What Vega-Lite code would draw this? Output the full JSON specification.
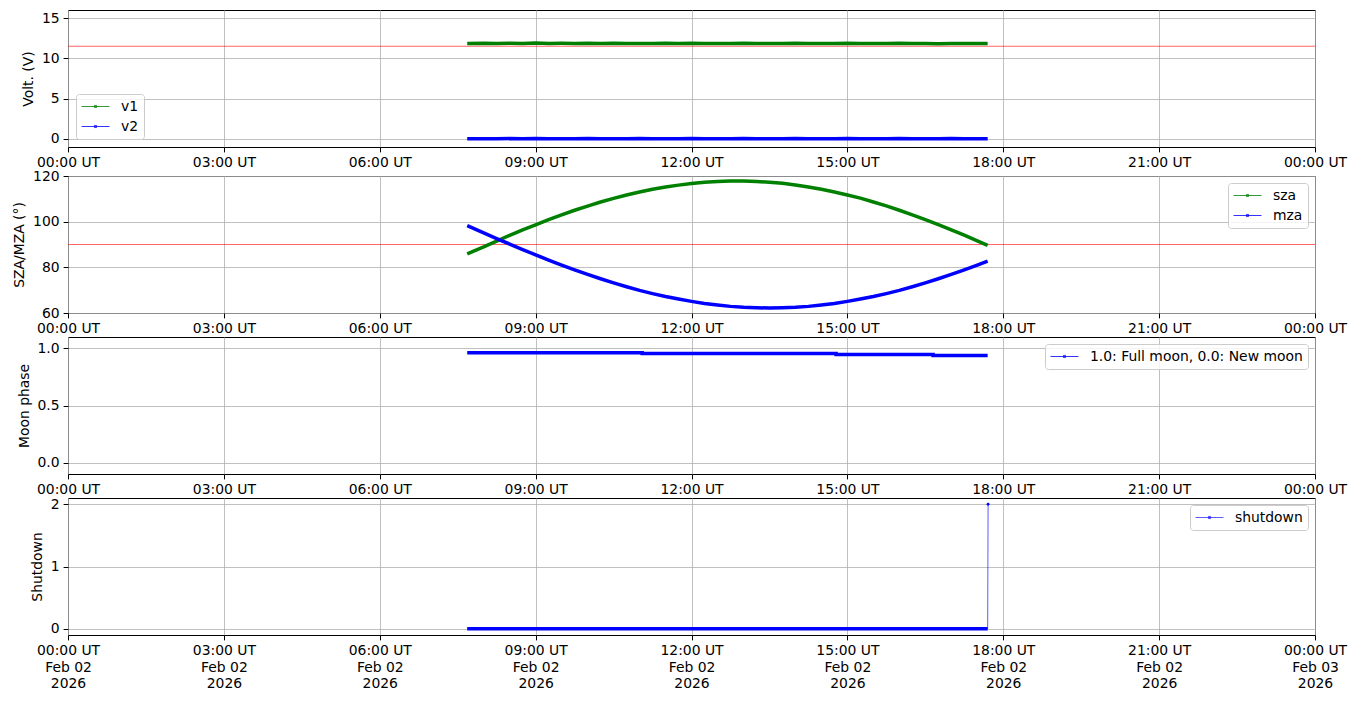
{
  "$schema": "https://vega.github.io/schema/vega-lite/v6.json",
  "autosize": {"type": "pad"},
  "padding": {"left": 12, "top": 9, "right": 0, "bottom": 0},
  "background": "white",
  "spacing": -3,
  "datasets": {
    "ts": [
      {"t": "2026-02-02T07:41:00Z", "v1": 11.85, "v2": 0.02, "sza": 85.9, "mza": 98.3},
      {"t": "2026-02-02T08:00:00Z", "v1": 11.88, "v2": 0.03, "sza": 89.0, "mza": 95.1},
      {"t": "2026-02-02T08:15:00Z", "v1": 11.84, "v2": 0.01, "sza": 91.5, "mza": 92.6},
      {"t": "2026-02-02T08:30:00Z", "v1": 11.86, "v2": 0.04, "sza": 94.0, "mza": 90.2},
      {"t": "2026-02-02T08:45:00Z", "v1": 11.85, "v2": 0.02, "sza": 96.4, "mza": 87.8},
      {"t": "2026-02-02T09:00:00Z", "v1": 11.89, "v2": 0.05, "sza": 98.6, "mza": 85.5},
      {"t": "2026-02-02T09:15:00Z", "v1": 11.84, "v2": 0.02, "sza": 100.9, "mza": 83.2},
      {"t": "2026-02-02T09:30:00Z", "v1": 11.86, "v2": 0.03, "sza": 103.0, "mza": 81.0},
      {"t": "2026-02-02T09:45:00Z", "v1": 11.85, "v2": 0.01, "sza": 105.0, "mza": 78.9},
      {"t": "2026-02-02T10:00:00Z", "v1": 11.87, "v2": 0.04, "sza": 106.8, "mza": 76.9},
      {"t": "2026-02-02T10:15:00Z", "v1": 11.83, "v2": 0.02, "sza": 108.6, "mza": 75.0},
      {"t": "2026-02-02T10:30:00Z", "v1": 11.86, "v2": 0.03, "sza": 110.2, "mza": 73.2},
      {"t": "2026-02-02T10:45:00Z", "v1": 11.84, "v2": 0.02, "sza": 111.7, "mza": 71.5},
      {"t": "2026-02-02T11:00:00Z", "v1": 11.85, "v2": 0.04, "sza": 113.0, "mza": 69.9},
      {"t": "2026-02-02T11:15:00Z", "v1": 11.83, "v2": 0.01, "sza": 114.2, "mza": 68.5},
      {"t": "2026-02-02T11:30:00Z", "v1": 11.86, "v2": 0.03, "sza": 115.2, "mza": 67.2},
      {"t": "2026-02-02T11:45:00Z", "v1": 11.84, "v2": 0.02, "sza": 116.0, "mza": 66.1},
      {"t": "2026-02-02T12:00:00Z", "v1": 11.87, "v2": 0.04, "sza": 116.7, "mza": 65.1},
      {"t": "2026-02-02T12:15:00Z", "v1": 11.84, "v2": 0.02, "sza": 117.3, "mza": 64.2},
      {"t": "2026-02-02T12:30:00Z", "v1": 11.85, "v2": 0.03, "sza": 117.6, "mza": 63.5},
      {"t": "2026-02-02T12:45:00Z", "v1": 11.83, "v2": 0.02, "sza": 117.8, "mza": 62.9},
      {"t": "2026-02-02T13:00:00Z", "v1": 11.86, "v2": 0.04, "sza": 117.8, "mza": 62.5},
      {"t": "2026-02-02T13:15:00Z", "v1": 11.84, "v2": 0.02, "sza": 117.6, "mza": 62.3},
      {"t": "2026-02-02T13:30:00Z", "v1": 11.85, "v2": 0.03, "sza": 117.3, "mza": 62.2},
      {"t": "2026-02-02T13:45:00Z", "v1": 11.83, "v2": 0.01, "sza": 116.8, "mza": 62.3},
      {"t": "2026-02-02T14:00:00Z", "v1": 11.86, "v2": 0.04, "sza": 116.1, "mza": 62.5},
      {"t": "2026-02-02T14:15:00Z", "v1": 11.84, "v2": 0.02, "sza": 115.2, "mza": 62.9},
      {"t": "2026-02-02T14:30:00Z", "v1": 11.85, "v2": 0.03, "sza": 114.2, "mza": 63.5},
      {"t": "2026-02-02T14:45:00Z", "v1": 11.83, "v2": 0.02, "sza": 113.0, "mza": 64.2},
      {"t": "2026-02-02T15:00:00Z", "v1": 11.86, "v2": 0.04, "sza": 111.7, "mza": 65.1},
      {"t": "2026-02-02T15:15:00Z", "v1": 11.84, "v2": 0.02, "sza": 110.3, "mza": 66.1},
      {"t": "2026-02-02T15:30:00Z", "v1": 11.85, "v2": 0.03, "sza": 108.6, "mza": 67.2},
      {"t": "2026-02-02T15:45:00Z", "v1": 11.83, "v2": 0.01, "sza": 106.9, "mza": 68.5},
      {"t": "2026-02-02T16:00:00Z", "v1": 11.86, "v2": 0.04, "sza": 105.0, "mza": 69.9},
      {"t": "2026-02-02T16:15:00Z", "v1": 11.84, "v2": 0.02, "sza": 103.0, "mza": 71.5},
      {"t": "2026-02-02T16:30:00Z", "v1": 11.85, "v2": 0.03, "sza": 100.9, "mza": 73.2},
      {"t": "2026-02-02T16:45:00Z", "v1": 11.82, "v2": 0.02, "sza": 98.7, "mza": 75.0},
      {"t": "2026-02-02T17:00:00Z", "v1": 11.84, "v2": 0.04, "sza": 96.4, "mza": 76.9},
      {"t": "2026-02-02T17:15:00Z", "v1": 11.83, "v2": 0.02, "sza": 94.1, "mza": 78.9},
      {"t": "2026-02-02T17:30:00Z", "v1": 11.84, "v2": 0.03, "sza": 91.6, "mza": 81.0},
      {"t": "2026-02-02T17:42:00Z", "v1": 11.83, "v2": 0.02, "sza": 89.6, "mza": 82.7}
    ],
    "moon": [
      {"t": "2026-02-02T07:41:00Z", "phase": 0.963},
      {"t": "2026-02-02T11:03:00Z", "phase": 0.955},
      {"t": "2026-02-02T14:47:00Z", "phase": 0.946},
      {"t": "2026-02-02T16:39:00Z", "phase": 0.937},
      {"t": "2026-02-02T17:42:00Z", "phase": 0.937}
    ],
    "shut": [
      {"t": "2026-02-02T07:41:00Z", "shutdown": 0},
      {"t": "2026-02-02T17:42:00Z", "shutdown": 0},
      {"t": "2026-02-02T17:42:30Z", "shutdown": 2}
    ]
  },
  "resolve": {"scale": {"color": "independent", "y": "independent"}, "legend": {"color": "independent"}, "axis": {"x": "independent", "y": "independent"}},
  "vconcat": [
    {
      "width": 1247, "height": 137,
      "layer": [
        {
          "data": {"values": [{}]},
          "mark": {"type": "rule", "color": "red", "strokeWidth": 1, "opacity": 0.6},
          "encoding": {"y": {"datum": 11.5, "type": "quantitative", "scale": {"domain": [-1, 16]}, "title": "Volt. (V)"}}
        },
        {
          "data": {"name": "ts"},
          "transform": [{"fold": ["v1", "v2"], "as": ["series", "value"]}],
          "mark": {"type": "line", "strokeWidth": 3.5},
          "encoding": {
            "x": {"field": "t", "type": "temporal", "scale": {"type": "utc", "domain": [1769990400000, 1770076800000]},
                  "axis": {"title": null, "values": [1769990400000, 1770001200000, 1770012000000, 1770022800000, 1770033600000, 1770044400000, 1770055200000, 1770066000000, 1770076800000],
                           "labelExpr": "utcFormat(datum.value, '%H:%M UT')", "labelFlush": false, "labelOverlap": false}},
            "y": {"field": "value", "type": "quantitative", "scale": {"domain": [-1, 16]}, "axis": {"values": [0, 5, 10, 15], "title": "Volt. (V)"}},
            "color": {"field": "series", "type": "nominal", "scale": {"domain": ["v1", "v2"], "range": ["green", "blue"]}, "legend": {"orient": "bottom-left", "title": null, "offset": 8}}
          }
        }
      ]
    },
    {
      "width": 1247, "height": 137,
      "layer": [
        {
          "data": {"values": [{}]},
          "mark": {"type": "rule", "color": "red", "strokeWidth": 1, "opacity": 0.6},
          "encoding": {"y": {"datum": 90, "type": "quantitative", "scale": {"domain": [60, 120]}, "title": "SZA/MZA (°)"}}
        },
        {
          "data": {"name": "ts"},
          "transform": [{"fold": ["sza", "mza"], "as": ["series", "value"]}],
          "mark": {"type": "line", "strokeWidth": 3.5},
          "encoding": {
            "x": {"field": "t", "type": "temporal", "scale": {"type": "utc", "domain": [1769990400000, 1770076800000]},
                  "axis": {"title": null, "values": [1769990400000, 1770001200000, 1770012000000, 1770022800000, 1770033600000, 1770044400000, 1770055200000, 1770066000000, 1770076800000],
                           "labelExpr": "utcFormat(datum.value, '%H:%M UT')", "labelFlush": false, "labelOverlap": false}},
            "y": {"field": "value", "type": "quantitative", "scale": {"domain": [60, 120]}, "axis": {"values": [60, 80, 100, 120], "title": "SZA/MZA (°)"}},
            "color": {"field": "series", "type": "nominal", "scale": {"domain": ["sza", "mza"], "range": ["green", "blue"]}, "legend": {"orient": "top-right", "title": null}}
          }
        }
      ]
    },
    {
      "width": 1247, "height": 137,
      "data": {"name": "moon"},
      "mark": {"type": "line", "strokeWidth": 3.5, "interpolate": "step-after"},
      "encoding": {
        "x": {"field": "t", "type": "temporal", "scale": {"type": "utc", "domain": [1769990400000, 1770076800000]},
              "axis": {"title": null, "values": [1769990400000, 1770001200000, 1770012000000, 1770022800000, 1770033600000, 1770044400000, 1770055200000, 1770066000000, 1770076800000],
                       "labelExpr": "utcFormat(datum.value, '%H:%M UT')", "labelFlush": false, "labelOverlap": false}},
        "y": {"field": "phase", "type": "quantitative", "scale": {"domain": [-0.1, 1.1]}, "axis": {"values": [0, 0.5, 1], "format": ".1f", "title": "Moon phase"}},
        "color": {"datum": "1.0: Full moon, 0.0: New moon", "type": "nominal", "scale": {"range": ["blue"]}, "legend": {"orient": "top-right", "title": null}}
      }
    },
    {
      "width": 1247, "height": 137,
      "data": {"name": "shut"},
      "encoding": {
        "x": {"field": "t", "type": "temporal", "scale": {"type": "utc", "domain": [1769990400000, 1770076800000]},
              "axis": {"title": null, "values": [1769990400000, 1770001200000, 1770012000000, 1770022800000, 1770033600000, 1770044400000, 1770055200000, 1770066000000, 1770076800000],
                       "labelExpr": "[utcFormat(datum.value, '%H:%M UT'), utcFormat(datum.value, '%b %d'), utcFormat(datum.value, '%Y')]", "labelFlush": false, "labelOverlap": false, "labelLineHeight": 16.5}},
        "y": {"field": "shutdown", "type": "quantitative", "scale": {"domain": [-0.1, 2.1]}, "axis": {"values": [0, 1, 2], "format": "d", "title": "Shutdown"}},
        "color": {"datum": "shutdown", "type": "nominal", "scale": {"range": ["blue"]}, "legend": {"orient": "top-right", "title": null}}
      },
      "layer": [
        {"mark": {"type": "line", "strokeWidth": 0.8, "opacity": 0.8}},
        {"transform": [{"filter": "datum.shutdown < 1"}], "mark": {"type": "line", "strokeWidth": 3.5}},
        {"transform": [{"filter": "datum.shutdown >= 1"}], "mark": {"type": "point", "filled": true, "size": 8, "opacity": 1}}
      ]
    }
  ],
  "config": {
    "font": "DejaVu Sans",
    "view": {"stroke": "black", "strokeWidth": 1},
    "axis": {
      "labelFont": "DejaVu Sans", "labelFontSize": 13.9, "labelColor": "black",
      "titleFont": "DejaVu Sans", "titleFontSize": 13.9, "titleFontWeight": "normal", "titleColor": "black",
      "tickColor": "black", "tickSize": 4.9, "tickWidth": 1, "domain": false,
      "grid": true, "gridColor": "#b0b0b0", "gridWidth": 0.8,
      "labelPadding": 4, "titlePadding": 6
    },
    "legend": {
      "labelFont": "DejaVu Sans", "labelFontSize": 13.9, "labelColor": "black", "labelLimit": 0,
      "fillColor": "rgba(255,255,255,0.8)", "strokeColor": "#cccccc", "cornerRadius": 3,
      "padding": 5, "offset": 7,
      "symbolType": "M-1,0H3M0.85,-0.15H1.15V0.15H0.85Z", "symbolSize": 196, "symbolStrokeWidth": 0.8,
      "labelOffset": 25, "rowPadding": 5
    }
  }
}
